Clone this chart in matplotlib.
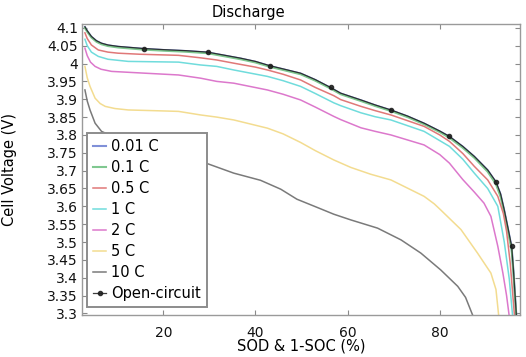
import numpy as np
import matplotlib
matplotlib.use("Agg")
import matplotlib.pyplot as plt

# =============================
# Data
# =============================
ocv_x = [3.0, 3.5, 4.4, 5.5, 6.6, 8.0, 10.2, 13.0, 15.8, 20.0, 25.0, 29.6, 33.0,
         36.8, 40.0, 43.1, 46.0, 49.8, 53.0, 56.3, 58.5, 62.9, 66.0, 69.4, 73.0,
         76.6, 80.0, 82.1, 85.0, 87.5, 90.4, 92.2, 93.2, 94.0, 94.8, 95.6, 96.0,
         96.3, 96.7]
ocv_y = [4.103, 4.092, 4.076, 4.064, 4.057, 4.052, 4.048, 4.045, 4.042, 4.039,
         4.036, 4.032, 4.024, 4.015, 4.006, 3.994, 3.985, 3.973, 3.955, 3.933,
         3.917, 3.898, 3.884, 3.870, 3.853, 3.833, 3.811, 3.796, 3.768, 3.740,
         3.702, 3.669, 3.635, 3.590, 3.540, 3.488, 3.420, 3.360, 3.280]
ocv_marker_x = [15.8, 29.6, 43.1, 56.3, 69.4, 82.1, 92.2, 95.6]

c001_y = [4.102, 4.091, 4.075, 4.063, 4.056, 4.051, 4.047, 4.044, 4.041, 4.038,
          4.035, 4.031, 4.023, 4.014, 4.005, 3.993, 3.984, 3.972, 3.954, 3.932,
          3.916, 3.897, 3.883, 3.869, 3.852, 3.832, 3.810, 3.795, 3.767, 3.739,
          3.701, 3.667, 3.633, 3.588, 3.537, 3.485, 3.417, 3.357, 3.278]
c01_y = [4.100, 4.089, 4.073, 4.061, 4.054, 4.049, 4.045, 4.042, 4.039, 4.036,
         4.033, 4.029, 4.021, 4.012, 4.003, 3.991, 3.982, 3.970, 3.952, 3.930,
         3.914, 3.895, 3.881, 3.867, 3.850, 3.830, 3.808, 3.792, 3.764, 3.736,
         3.697, 3.662, 3.627, 3.582, 3.530, 3.478, 3.410, 3.350, 3.275]

c05_x = [3.0, 3.5, 4.4, 5.9, 8.0, 10.2, 15.0, 23.3, 28.1, 31.6, 35.3, 40.0, 42.6,
         46.0, 49.8, 53.0, 57.0, 58.5, 62.9, 66.0, 69.4, 73.0, 76.6, 80.0, 82.1,
         85.0, 87.5, 90.4, 92.6, 93.8, 94.5, 95.3, 95.8, 96.3]
c05_y = [4.086, 4.070, 4.052, 4.038, 4.032, 4.029, 4.026, 4.023, 4.016, 4.010,
         4.001, 3.990, 3.982, 3.970, 3.954, 3.933, 3.910, 3.899, 3.880, 3.868,
         3.856, 3.840, 3.824, 3.800, 3.782, 3.748, 3.712, 3.674, 3.628, 3.580,
         3.530, 3.440, 3.360, 3.280]

c1_x = [3.0, 3.5, 4.4, 5.9, 8.0, 12.4, 23.3, 28.1, 31.6, 35.3, 42.6, 46.0, 49.8,
        53.0, 57.0, 58.5, 62.9, 66.0, 69.4, 76.6, 82.1, 85.0, 87.5, 90.4, 92.6,
        94.0, 95.1, 95.9]
c1_y = [4.068, 4.050, 4.032, 4.020, 4.012, 4.006, 4.004, 3.996, 3.992, 3.982,
        3.964, 3.952, 3.936, 3.916, 3.890, 3.882, 3.862, 3.851, 3.842, 3.810,
        3.768, 3.732, 3.693, 3.650, 3.600, 3.500, 3.395, 3.280]

c2_x = [3.0, 3.5, 4.2, 5.2, 6.5, 8.8, 16.0, 23.3, 28.1, 31.6, 35.3, 42.6, 46.0,
        49.8, 53.0, 57.0, 58.5, 62.9, 66.0, 69.4, 76.6, 80.0, 82.1, 85.0, 87.5,
        89.6, 91.1, 92.6, 93.7, 94.5, 95.2]
c2_y = [4.043, 4.022, 4.004, 3.992, 3.984, 3.978, 3.973, 3.968, 3.959, 3.950,
        3.945, 3.926, 3.914, 3.898, 3.878, 3.852, 3.843, 3.820, 3.810, 3.800,
        3.772, 3.745, 3.721, 3.675, 3.640, 3.609, 3.572, 3.488, 3.413, 3.350,
        3.280]

c5_x = [3.0, 3.5, 4.1, 5.2, 6.3, 7.4, 9.5, 12.4, 18.0, 23.3, 28.1, 31.6, 35.3,
        42.6, 46.0, 49.8, 53.0, 57.0, 60.7, 65.0, 69.4, 71.6, 76.6, 78.8, 80.2,
        84.6, 88.2, 91.1, 92.2, 92.9]
c5_y = [3.992, 3.960, 3.936, 3.903, 3.888, 3.880, 3.874, 3.870, 3.868, 3.866,
        3.856, 3.850, 3.842, 3.819, 3.803, 3.779, 3.756, 3.730, 3.709, 3.690,
        3.674, 3.660, 3.628, 3.607, 3.590, 3.535, 3.469, 3.413, 3.367, 3.280]

c10_x = [3.0, 3.5, 4.1, 5.2, 6.6, 10.0, 15.0, 20.0, 25.0, 29.5, 35.3, 41.1, 45.5,
         49.0, 53.4, 57.0, 60.7, 66.5, 71.6, 75.9, 80.2, 83.9, 85.6, 87.3]
c10_y = [3.926, 3.895, 3.870, 3.833, 3.810, 3.790, 3.765, 3.748, 3.733, 3.720,
         3.693, 3.673, 3.648, 3.620, 3.597, 3.578, 3.562, 3.539, 3.506, 3.469,
         3.422, 3.376, 3.345, 3.290]

labels = ["0.01 C", "0.1 C", "0.5 C", "1 C", "2 C", "5 C", "10 C", "Open-circuit"]
colors = ["#8090d8", "#80c890", "#e07878", "#70dcdc", "#dc78cc", "#f3dc90",
          "#7a7a7a", "#1c1c1c"]

y_ticks = [3.3, 3.35, 3.4, 3.45, 3.5, 3.55, 3.6, 3.65, 3.7, 3.75, 3.8, 3.85,
           3.9, 3.95, 4.0, 4.05, 4.1]
x_ticks = [20, 40, 60, 80]

plt.rcParams['font.family'] = 'DejaVu Sans'

fig = plt.figure(figsize=(5.26, 3.57), dpi=100)
ax = fig.add_axes([0.155, 0.119, 0.834, 0.814])

series = [
    (ocv_x, c001_y), (ocv_x, c01_y), (c05_x, c05_y), (c1_x, c1_y),
    (c2_x, c2_y), (c5_x, c5_y), (c10_x, c10_y),
]
lws = [1.5, 1.5, 1.1, 1.1, 1.1, 1.1, 1.1]
for (xs, ys), lab, col, lw in zip(series, labels[:7], colors[:7], lws):
    ax.plot(xs, ys, color=col, linewidth=lw, label=lab)

mark_idx = [int(np.argmin(np.abs(np.array(ocv_x) - m))) for m in ocv_marker_x]
ax.plot(ocv_x, ocv_y, color=colors[7], linewidth=0.9, alpha=0.85,
        marker="o", markersize=3, markevery=mark_idx, label=labels[7], zorder=5)

ax.set_xlim(2.26, 97.46)
ax.set_ylim(3.297, 4.111)
ax.set_xticks(x_ticks)
ax.set_yticks(y_ticks)
ax.set_yticklabels([f"{v:g}" for v in y_ticks])

for s in ax.spines.values():
    s.set_color("#9a9a9a")
    s.set_linewidth(1.0)
ax.tick_params(direction="in", length=3.5, width=0.8, color="#8a8a8a",
               top=True, right=True, labelsize=10, labelcolor="#111111")
ax.tick_params(axis="y", pad=2.5)
ax.tick_params(axis="x", pad=8)

ax.set_xlabel("SOD & 1-SOC (%)", fontsize=10.5, va="top")
ax.xaxis.set_label_coords(0.5, -0.082)
ax.set_ylabel("Cell Voltage (V)", fontsize=10.5)
ax.yaxis.set_label_coords(-0.147, 0.5)
fig.text(0.4715, 0.966, "Discharge", ha="center", va="center", fontsize=10.5)

leg = ax.legend(loc="lower left", bbox_to_anchor=(0.0125, 0.026),
                fontsize=10.5, handlelength=0.9, handletextpad=0.35,
                labelspacing=0.41, borderpad=0.41, borderaxespad=0,
                fancybox=False, framealpha=1, edgecolor="#8c8c8c")
leg.get_frame().set_linewidth(1.4)

plt.savefig("out.png", dpi=100)
